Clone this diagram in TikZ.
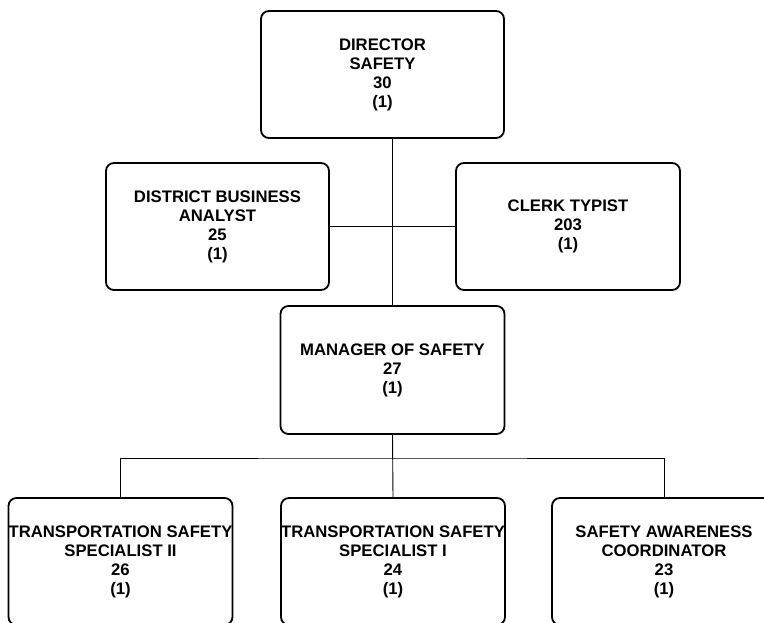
\documentclass[tikz,border=0pt]{standalone}
\usepackage{fontspec}
\setmainfont{Liberation Sans}
\usepackage{tikz}
\usetikzlibrary{shapes}
\tikzset{
  job node/.style={rectangle,draw,rounded corners=8pt,line width=1.8pt,align=center,
    inner xsep=0pt,minimum width=224pt,minimum height=127pt,
    font=\fontsize{16.7}{19}\selectfont\bfseries},
  link/.style={line width=0.9pt}
}

\begin{document}
\begin{tikzpicture}[x=1pt,y=-1pt]
		    \clip (0,0) rectangle (764,623);
		    \useasboundingbox (0,0) rectangle (764,623);
		    \node [job node,minimum width=243pt] (1) at (382.5,74.5) {DIRECTOR\\SAFETY\\30\\(1)};
		    \node [job node,minimum width=223pt] (2) at (217.5,226.5) {DISTRICT BUSINESS\\ANALYST\\25\\(1)};
		    \node [job node] (3) at (568,226.5) {CLERK TYPIST\\203\\(1)};
		    \node [job node,minimum height=128pt] (4) at (392.5,370) {MANAGER OF SAFETY\\27\\(1)};
		    \node [job node] (5) at (120.5,561.5) {TRANSPORTATION SAFETY\\SPECIALIST II\\26\\(1)};
		    \node [job node] (6) at (393,561.5) {TRANSPORTATION SAFETY\\SPECIALIST I\\24\\(1)};
		    \node [job node] (7) at (664,561.5) {SAFETY AWARENESS\\COORDINATOR\\23\\(1)};
		    \coordinate (bus) at (393,458);
		    \draw [link] (4.north |- 1.south) -- (4.north);
		    \draw [link] (2.east) -- (3.west);
		    \draw [link] (4.south) -- (6.north);
		    \draw [link] (5.north) |- (bus) -| (7.north);
		  \end{tikzpicture}
\end{document}
